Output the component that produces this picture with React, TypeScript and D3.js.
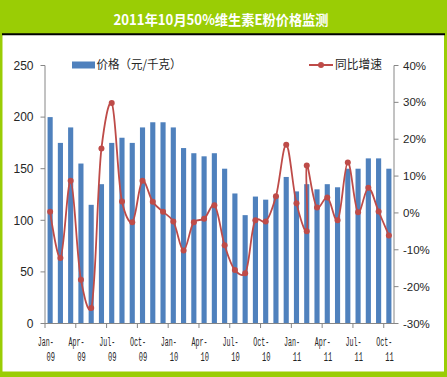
import React from "react";
import * as d3 from "d3";

const title = "2011年10月50%维生素E粉价格监测";
const barName = "价格（元/千克）";
const lineName = "同比增速";

const categories = [
  "Jan-09", "Feb-09", "Mar-09", "Apr-09", "May-09", "Jun-09", "Jul-09", "Aug-09", "Sep-09", "Oct-09", "Nov-09", "Dec-09",
  "Jan-10", "Feb-10", "Mar-10", "Apr-10", "May-10", "Jun-10", "Jul-10", "Aug-10", "Sep-10", "Oct-10", "Nov-10", "Dec-10",
  "Jan-11", "Feb-11", "Mar-11", "Apr-11", "May-11", "Jun-11", "Jul-11", "Aug-11", "Sep-11", "Oct-11",
];

const prices = [
  200, 175, 190, 155, 115, 135, 175, 180, 175, 190, 195, 195,
  190, 170, 165, 162, 165, 150, 126, 105, 123, 120, 124, 142,
  128, 135, 130, 135, 132, 150, 150, 160, 160, 150,
];

// the YoY series has two points plotted in the Feb-11 slot
const lineMonths = [
  "Jan-09", "Feb-09", "Mar-09", "Apr-09", "May-09", "Jun-09", "Jul-09", "Aug-09", "Sep-09", "Oct-09", "Nov-09", "Dec-09",
  "Jan-10", "Feb-10", "Mar-10", "Apr-10", "May-10", "Jun-10", "Jul-10", "Aug-10", "Sep-10", "Oct-10", "Nov-10", "Dec-10",
  "Jan-11", "Feb-11", "Feb-11", "Mar-11", "Apr-11", "May-11", "Jun-11", "Jul-11", "Aug-11", "Sep-11", "Oct-11",
];

const yoy = [
  0.3, -12.2, 8.7, -18.1, -25.8, 17.5, 29.8, 3.1, -2.5, 8.7, 3.0, 0.3,
  -2.3, -10.2, -2.5, -1.6, 2.1, -8.8, -15.5, -16.4, -2.0, -2.3, 4.5, 18.5,
  2.6, -5.0, 12.9, 1.5, 4.2, -2.0, 13.7, 0.2, 6.8, 0.4, -6.1,
];

const leftTicks = [0, 50, 100, 150, 200, 250];
const rightTicks = [-30, -20, -10, 0, 10, 20, 30, 40];
const labelEvery = 3;

const W = 447;
const H = 377;
const GREEN = "#9ACD05";
const BLUE = "#4F81BD";
const RED = "#BE4B48";
const AXIS = "#868686";
const TXT = "#262626";

export default function App() {
  const left = 45;
  const right = 394;
  const top = 65.5;
  const bottom = 323.5;

  const x = d3.scaleBand<string>().domain(categories).range([left, right]).paddingInner(0.5).paddingOuter(0.25);
  const step = x.step();
  const yL = d3.scaleLinear().domain([0, 250]).range([bottom, top]);
  const yR = d3.scaleLinear().domain([-30, 40]).range([bottom, top]);

  const pts: [number, number][] = lineMonths.map((m, i) => [
    (x(m) as number) + x.bandwidth() / 2,
    yR(yoy[i]),
  ]);
  const lineGen = d3.line().curve(d3.curveCatmullRom.alpha(0.25));
  const path = lineGen(pts) || "";

  const xTickIdx = d3.range(0, categories.length, labelEvery);

  return (
    <svg width={W} height={H} style={{ position: "absolute", left: 0, top: 0 }} xmlns="http://www.w3.org/2000/svg">
      <rect x={0} y={0} width={W} height={H} fill={GREEN} />
      <rect x={2.5} y={34} width={W - 5.5} height={371.5 - 34} fill="#ffffff" />
      <line x1={2} x2={445} y1={34.2} y2={34.2} stroke="#000" strokeWidth={2} />
      <text
        x={221}
        y={24.5}
        textAnchor="middle"
        fill="#fff"
        fontFamily="'Noto Sans CJK SC', sans-serif"
        fontWeight="bold"
        fontSize={14}
        textLength={215}
        lengthAdjust="spacingAndGlyphs"
      >
        {title}
      </text>

      {/* bars */}
      {categories.map((c, i) => (
        <rect key={c} x={x(c)} y={yL(prices[i])} width={x.bandwidth()} height={yL(0) - yL(prices[i])} fill={BLUE} />
      ))}

      {/* line */}
      <path d={path} fill="none" stroke={RED} strokeWidth={1.8} strokeLinejoin="round" />
      {pts.map((p, i) => (
        <circle key={i} cx={p[0]} cy={p[1]} r={3} fill={RED} />
      ))}

      {/* left axis */}
      <line x1={left} x2={left} y1={top} y2={bottom} stroke={AXIS} strokeWidth={1} />
      {leftTicks.map((t) => (
        <g key={t}>
          <line x1={left - 4.5} x2={left} y1={yL(t)} y2={yL(t)} stroke={AXIS} />
          <text x={33.5} y={yL(t)} dy="0.36em" textAnchor="end" fontFamily="'Liberation Sans', Arial, sans-serif" fontSize={12} fill={TXT}>
            {t}
          </text>
        </g>
      ))}

      {/* right axis */}
      <line x1={right} x2={right} y1={top} y2={bottom} stroke={AXIS} strokeWidth={1} />
      {rightTicks.map((t) => (
        <g key={t}>
          <line x1={right} x2={right + 4.5} y1={yR(t)} y2={yR(t)} stroke={AXIS} />
          <text x={403} y={yR(t)} dy="0.36em" textAnchor="start" fontFamily="'Liberation Sans', Arial, sans-serif" fontSize={11.5} fill={TXT}>
            {t + "%"}
          </text>
        </g>
      ))}

      {/* x axis */}
      <line x1={left} x2={right} y1={bottom} y2={bottom} stroke={AXIS} strokeWidth={1} />
      {xTickIdx.map((i) => {
        const bx = left + i * step;
        const cx = (x(categories[i]) as number) + x.bandwidth() / 2;
        const [mon, yr] = categories[i].split("-");
        return (
          <g key={i}>
            <line x1={bx} x2={bx} y1={bottom} y2={bottom + 4.5} stroke={AXIS} />
            <text x={cx - 4.5} y={341.5} dy="0.36em" textAnchor="middle" fontFamily="'Liberation Mono', monospace" fontSize={12} fill={TXT} textLength={16} lengthAdjust="spacingAndGlyphs">
              {mon + "-"}
            </text>
            <text x={cx + 0.6} y={356.5} dy="0.36em" textAnchor="middle" fontFamily="'Liberation Mono', monospace" fontSize={12} fill={TXT} textLength={8.5} lengthAdjust="spacingAndGlyphs">
              {yr}
            </text>
          </g>
        );
      })}

      {/* legend */}
      <rect x={72} y={61.5} width={23} height={7} fill={BLUE} />
      <text x={96.5} y={65} dy="0.36em" fontFamily="'Noto Sans CJK SC', sans-serif" fontSize={12} fill={TXT} textLength={85} lengthAdjust="spacingAndGlyphs">
        {barName}
      </text>
      <line x1={309} x2={333} y1={65} y2={65} stroke={RED} strokeWidth={2} />
      <circle cx={321} cy={65} r={3} fill={RED} />
      <text x={335} y={65} dy="0.36em" fontFamily="'Noto Sans CJK SC', sans-serif" fontSize={12} fill={TXT} textLength={47} lengthAdjust="spacingAndGlyphs">
        {lineName}
      </text>
    </svg>
  );
}
